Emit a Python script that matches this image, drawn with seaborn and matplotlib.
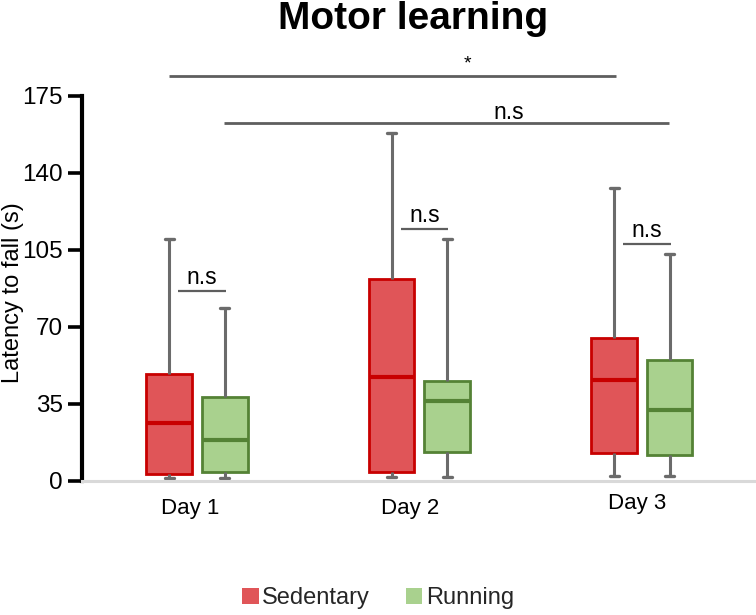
import numpy as np
import pandas as pd
import matplotlib
matplotlib.use("Agg")
import matplotlib.pyplot as plt
import matplotlib.transforms as mtransforms
import seaborn as sns
from matplotlib.patches import Patch

# ---------------- data ----------------
days = ["Day 1", "Day 2", "Day 3"]
groups = ["Sedentary", "Running"]

sed_min = [1.5, 2.0, 2.4]
sed_q1 = [3.2, 4.2, 12.5]
sed_med = [26.5, 47.2, 46.0]
sed_q3 = [48.7, 91.8, 65.0]
sed_max = [110.0, 158.0, 133.0]

run_min = [1.5, 2.0, 2.4]
run_q1 = [4.2, 13.0, 11.6]
run_med = [18.4, 36.5, 32.4]
run_q3 = [38.0, 45.2, 54.8]
run_max = [78.4, 109.8, 103.0]

y_ticks = [0, 35, 70, 105, 140, 175]

# significance annotations
within_y = [86.2, 114.5, 107.6]
within_text = ["n.s", "n.s", "n.s"]
across_from = [-0.125, 0.12]
across_to = [1.885, 2.12]
across_y = [183.9, 162.6]
across_text = ["*", "n.s"]
across_text_x = [1.215, 1.402]

# ---------------- long-form table ----------------
rows = []
for i, d in enumerate(days):
    for v in (sed_min[i], sed_q1[i], sed_med[i], sed_q3[i], sed_max[i]):
        rows.append({"Day": d, "Group": "Sedentary", "Latency": v})
    for v in (run_min[i], run_q1[i], run_med[i], run_q3[i], run_max[i]):
        rows.append({"Day": d, "Group": "Running", "Latency": v})
df = pd.DataFrame(rows)

# ---------------- style ----------------
sns.set_theme(style="white")
plt.rcParams["font.family"] = ["Liberation Sans", "DejaVu Sans"]

fill_cols = ["#E05558", "#A9D18E"]
edge_cols = ["#C80000", "#548235"]
whisk_col = "#6B6B6B"
annot_col = "#5E5E5E"

fig = plt.figure(figsize=(7.56, 6.15), dpi=100)
ax = fig.add_axes([0.1085, 0.218, 0.89, 0.626])

sns.boxplot(data=df, x="Day", y="Latency", hue="Group", hue_order=groups,
            order=days, palette=fill_cols, saturation=1, width=0.5, gap=0.18,
            whis=(0, 100), linewidth=2, fliersize=0, legend=False, ax=ax)

# per-group edge colours, grey whiskers and short caps
for cont, ec in zip(ax.containers, edge_cols):
    for b in getattr(cont, "boxes", []):
        b.set_edgecolor(ec)
        b.set_linewidth(2)
    for m in getattr(cont, "medians", []):
        m.set_color(ec)
        m.set_linewidth(3)
    for w in getattr(cont, "whiskers", []):
        w.set_color(whisk_col)
        w.set_linewidth(2.2)
    for c in getattr(cont, "caps", []):
        c.set_color(whisk_col)
        c.set_linewidth(2.4)
        xd = np.asarray(c.get_xdata(), dtype=float)
        mid = xd.mean()
        c.set_xdata([mid - 0.02, mid + 0.02])

ax.set_xlim(-0.517, 2.508)
ax.set_ylim(0, 175)
ax.set_yticks(y_ticks)
ax.set_yticklabels([str(t) for t in y_ticks])

for s in ["top", "right"]:
    ax.spines[s].set_visible(False)
ax.spines["left"].set_color("black")
ax.spines["left"].set_linewidth(3)
ax.spines["bottom"].set_color("#D9D9D9")
ax.spines["bottom"].set_linewidth(2.2)

ax.tick_params(axis="y", direction="out", length=10, width=2.6, pad=4,
               labelsize=17.5, colors="black", left=True)
ax.tick_params(axis="x", length=0, pad=12, labelsize=16, colors="black")
ax.set_xlabel("")
ax.set_ylabel("Latency to fall (s)", fontsize=17, color="black")
ax.yaxis.set_label_coords(-0.086, 0.49)

# small offsets of the day labels as in the reference
lab_shift = [(-7, 0), (-9, 0), (-5, 5)]
for lab, (dx, dy) in zip(ax.get_xticklabels(), lab_shift):
    lab.set_transform(lab.get_transform() +
                      mtransforms.ScaledTranslation(dx / 100, dy / 100,
                                                    fig.dpi_scale_trans))

# within-day comparisons
for i, (yv, t) in enumerate(zip(within_y, within_text)):
    ax.plot([i - 0.085, i + 0.13], [yv, yv], color=annot_col, lw=1.6,
            solid_capstyle="butt", clip_on=False)
    ax.text(i + 0.022, yv + 3.3, t, ha="center", va="baseline", fontsize=16.5,
            color="black")

# across-day comparisons
for x0, x1, yv, t, tx in zip(across_from, across_to, across_y, across_text,
                             across_text_x):
    ax.plot([x0, x1], [yv, yv], color=annot_col, lw=2, solid_capstyle="butt",
            clip_on=False)
    off = 3.5 if t == "*" else 2.0
    ax.text(tx, yv + off, t, ha="center", va="baseline",
            fontsize=14 if t == "*" else 16.5, color="black", clip_on=False)

fig.text(0.546, (615 - 29) / 615, "Motor learning", ha="center",
         va="baseline", fontsize=28, fontweight="bold", color="black")

handles = [Patch(facecolor=fill_cols[0], edgecolor="none", label=groups[0]),
           Patch(facecolor=fill_cols[1], edgecolor="none", label=groups[1])]
fig.legend(handles=handles, loc="center", bbox_to_anchor=(0.5, 0.027),
           ncol=2, frameon=False, fontsize=17, handlelength=0.7,
           handleheight=0.7, handletextpad=0.15, columnspacing=1.5)

fig.savefig("out.png", dpi=100, facecolor="white")
